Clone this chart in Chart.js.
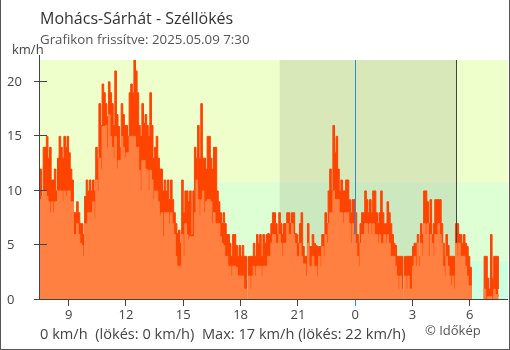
<!DOCTYPE html>
<html>
<head>
<meta charset="utf-8">
<script src="https://cdn.jsdelivr.net/npm/chart.js@4.4.1/dist/chart.umd.min.js"></script>
<style>
    body { margin: 0; background: #fff; }
    #wrap { position: relative; width: 510px; height: 350px; font-family: 'Open Sans', sans-serif; overflow: hidden; }
    #wrap canvas { position: absolute; left: 0; top: 0; }
    .txt { position: absolute; line-height: 1; white-space: pre; }
    #frame { position: absolute; left: 0; top: 0; width: 510px; height: 350px; box-sizing: border-box;
             border: 1px solid #555; border-top: none; pointer-events: none; }
</style>
</head>
<body>
<div id="wrap">
    <canvas id="gustChart" width="510" height="350"></canvas>
    <div class="txt" style="left:40px;top:10px;font-size:16px;color:#333;">Mohács-Sárhát - Széllökés</div>
    <div class="txt" style="left:40px;top:33px;font-size:13.3px;color:#555;">Grafikon frissítve: 2025.05.09 7:30</div>
    <div class="txt" style="left:12px;top:43px;font-size:13px;color:#444;">km/h</div>
    <div class="txt" style="left:40px;top:326px;font-size:14.6px;color:#444;">0 km/h  (lökés: 0 km/h)  Max: 17 km/h (lökés: 22 km/h)</div>
    <div class="txt" style="left:425px;top:324px;font-size:13px;color:#555;">© Időkép</div>
    <div id="frame"></div>
</div>
<script>
// 5-minute readings from 7:30 (hours, next day continues past 24)
const startHour = 7.5;
const stepMinutes = 5;

const gustKmh = [
    12, 9, 14, 14, 15, 13, 14, 11, 11, 12, 10, 13,
    15, 14, 13, 15, 14, 15, 13.5, 12, 11, 8, 8, 9,
    8, 7, 7, 6, 9.5, 11, 10, 11, 10, 11, 10, 14,
    13, 18, 16, 19.8, 19, 18, 16.8, 20, 19, 18, 16, 21,
    17, 15.9, 14, 18, 17, 16, 16, 15, 19, 19.8, 19, 22,
    21, 19, 16, 15, 18, 16.2, 17, 16, 15, 19, 16, 13,
    14, 15, 13, 12, 12, 10, 11, 10, 11, 9.2, 11, 9.2,
    8, 7, 6.1, 6.4, 5.2, 11, 8, 10, 10, 9, 10, 6,
    10, 14, 13, 16, 13, 18, 13, 13, 12, 15, 15, 13,
    12, 14, 14, 10, 9, 8, 7, 8, 7, 6, 6, 5.2,
    4, 6, 6, 5, 4, 5, 4, 5, 4, 4, 0, 4,
    4, 4, 5.2, 4, 6, 5.2, 6, 4, 6, 5.2, 6, 6.1,
    6, 7, 8, 8, 7, 6, 8, 7, 6, 7, 7, 8,
    8, 7, 8, 8, 6.1, 6, 5.2, 7, 8, 4.9, 4, 4,
    7, 4.9, 4.9, 6, 5.2, 5, 4.9, 4.9, 4.9, 6, 6, 8,
    7, 10, 12, 10, 16, 13.5, 15, 12, 10, 11, 10, 10,
    11, 11, 9.2, 8, 9.2, 9.2, 8, 6, 5.2, 7, 8, 8,
    10, 9.2, 8, 9.2, 8, 10, 10, 8, 7, 8, 10, 8,
    7, 7, 9, 8, 7, 6, 5.2, 5, 4, 4, 4, 4,
    0, 4, 4, 4, 4, 4, 4.9, 5.2, 5.2, 6, 4, 7,
    6, 10, 10, 9, 7, 9.2, 6, 7, 9.2, 9.2, 9.2, 9.2,
    7, 5.2, 4, 6, 5, 4, 4, 4, 4, 7, 7, 6,
    6, 5.2, 6, 5.2, 4.9, 4, 3, 0, 0, 0, 0, 0,
    0, 0, 0, 4, 4, 2, 1, 6, 2, 4, 4, 4,
    1
];

const windKmh = [
    9.2, 9.5, 10, 10, 9.5, 9, 8, 9, 8, 9, 9, 10,
    10, 10, 9, 10, 9.5, 10, 10, 9, 9, 6, 6, 7,
    6, 5.2, 5, 4, 7, 7, 8, 8, 8, 9, 7.5, 11,
    10, 13, 12, 15.9, 15.9, 16, 14, 17, 15, 14, 13, 15,
    12, 12.8, 12.8, 15, 14, 13, 13.5, 13.5, 15, 15, 15, 15,
    14, 14, 11.9, 10, 12.8, 12.8, 12, 11.9, 10, 11.9, 11, 9.2,
    10, 10, 9, 7.7, 8, 5.8, 8, 8, 8, 7, 8, 7,
    6, 4, 3.1, 3.1, 3.1, 6, 4, 7, 6, 5.5, 5.8, 5.8,
    5.8, 8, 11, 9.2, 7.7, 9.2, 10, 8, 9, 9.2, 9.2, 9,
    7, 8, 7, 7, 7, 5.8, 5.2, 5, 4, 4, 3.1, 3.1,
    2.2, 3.1, 3.1, 3, 2.2, 2.2, 2.2, 2.2, 1, 1, 0, 2.2,
    1, 2.2, 3.1, 2.2, 3.1, 3.1, 3.1, 2.2, 3.1, 3.1, 3.1, 4,
    4, 5.2, 6, 6, 5.2, 5.2, 6, 5.2, 4, 5.2, 5.2, 7,
    6, 6, 7, 6, 5.2, 4, 4, 5.2, 4, 3.3, 3.3, 2.2,
    5.2, 3.1, 3.1, 4, 3.1, 3.1, 2.2, 4, 3.1, 4.9, 4, 6,
    5.2, 7, 8, 8, 10, 9.2, 9.2, 9.2, 8, 8, 7, 8,
    8, 8, 7, 5.2, 7, 6, 5.2, 4, 3.1, 5.2, 6, 6,
    7, 7, 6, 7, 6, 7, 6, 6, 5.2, 6, 5.2, 5.2,
    6, 5.2, 6, 5.2, 4, 4, 4, 3.1, 2.2, 1, 2.2, 1,
    0, 2.2, 1, 2.2, 1, 1, 3.1, 4, 3.1, 5.2, 3.1, 5.2,
    4, 7, 6, 7, 4, 6, 5.2, 4, 6, 6, 7, 6,
    5.2, 3.1, 2.2, 4, 3.1, 2.2, 1.3, 2.2, 1, 5.2, 4, 5.2,
    4, 4, 4, 3.1, 2.2, 1.3, 1.3, 0, 0, 0, 0, 0,
    0, 0, 0, 1, 0, 0.3, 0.3, 0.3, 0, 1, 0.5, 0.5,
    0.3
];

const xTicks = [9, 12, 15, 18, 21, 24, 27, 30];
const xTickLabels = ['9', '12', '15', '18', '21', '0', '3', '6'];
const yTicks = [0, 5, 10, 15, 20];
const bandLimits = [3.6, 10.8];
const nightStart = 20.05;
const nightEnd = 29.3;
const midnightHour = 24;

const times = gustKmh.map((_, i) => startHour + i * stepMinutes / 60);

function toPoints(values) {
    return values.map((v, i) => ({ x: times[i], y: v }));
}

const crisp = v => Math.round(v) + 0.5;

const backdropPlugin = {
    id: 'backdrop',
    beforeDatasetsDraw(chart) {
        const { ctx, chartArea: a, scales: { x, y } } = chart;
        const yLow = y.getPixelForValue(bandLimits[0]);
        const yHigh = y.getPixelForValue(bandLimits[1]);
        ctx.save();
        ctx.fillStyle = '#EEFFCC';
        ctx.fillRect(a.left, a.top, a.width, yHigh - a.top);
        ctx.fillStyle = '#DDFFD3';
        ctx.fillRect(a.left, yHigh, a.width, yLow - yHigh);
        ctx.fillStyle = '#CCFFDD';
        ctx.fillRect(a.left, yLow, a.width, a.bottom - yLow);
        const xs = x.getPixelForValue(nightStart);
        const xe = x.getPixelForValue(nightEnd);
        ctx.fillStyle = 'rgba(110, 110, 80, 0.16)';
        ctx.fillRect(xs, a.top, xe - xs, a.height);
        ctx.restore();
    },
    afterDatasetDraw(chart, args) {
        // markers sit over the gusts but under the mean wind
        if (args.index !== 1) return;
        const { ctx, chartArea: a, scales: { x } } = chart;
        ctx.save();
        ctx.lineWidth = 1;
        ctx.strokeStyle = '#2A8FD8';
        const xm = crisp(x.getPixelForValue(midnightHour));
        ctx.beginPath();
        ctx.moveTo(xm, a.top);
        ctx.lineTo(xm, a.bottom + 6);
        ctx.stroke();
        ctx.strokeStyle = '#444';
        const xn = crisp(x.getPixelForValue(nightEnd));
        ctx.beginPath();
        ctx.moveTo(xn, a.top);
        ctx.lineTo(xn, a.bottom);
        ctx.stroke();
        ctx.restore();
    },
    afterDatasetsDraw(chart) {
        const { ctx, chartArea: a, scales: { y } } = chart;
        ctx.save();
        ctx.lineWidth = 1;
        ctx.strokeStyle = '#444';
        ctx.beginPath();
        const xl = crisp(a.left) - 1;
        ctx.moveTo(xl, a.top - 5);
        ctx.lineTo(xl, a.bottom);
        ctx.moveTo(a.left - 6, crisp(a.bottom) - 1);
        ctx.lineTo(a.right, crisp(a.bottom) - 1);
        y.ticks.forEach(t => {
            const py = crisp(y.getPixelForValue(t.value)) - 1;
            ctx.moveTo(a.left - 6, py);
            ctx.lineTo(a.left + 7, py);
        });
        ctx.stroke();
        ctx.restore();
    }
};

new Chart(document.getElementById('gustChart'), {
    type: 'line',
    data: {
        datasets: [{
            label: 'Szélsebesség',
            data: toPoints(windKmh),
            stepped: true,
            fill: 'origin',
            backgroundColor: '#FF8040',
            borderColor: '#FF8040',
            borderWidth: 1,
            pointRadius: 0
        }, {
            label: 'Széllökés',
            data: toPoints(gustKmh),
            stepped: true,
            fill: 'origin',
            backgroundColor: '#FF4400',
            borderColor: '#FF4400',
            borderWidth: 1,
            pointRadius: 0
        }]
    },
    options: {
        responsive: false,
        animation: false,
        devicePixelRatio: 1,
        layout: { padding: { left: 7, top: 60, right: 2, bottom: 0 } },
        plugins: {
            legend: { display: false },
            tooltip: { enabled: false }
        },
        scales: {
            x: {
                type: 'linear',
                min: 7.5,
                max: 32,
                afterBuildTicks: s => { s.ticks = xTicks.map(v => ({ value: v })); },
                afterFit: s => { s.height = 50; },
                ticks: {
                    autoSkip: false,
                    maxRotation: 0,
                    padding: 1,
                    color: '#444',
                    font: { family: "'Open Sans', sans-serif", size: 13 },
                    callback: (v, i) => xTickLabels[i]
                },
                grid: {
                    drawOnChartArea: false,
                    tickLength: 6,
                    tickColor: c => (c.tick && c.tick.value === midnightHour) ? '#2A8FD8' : '#444'
                },
                border: { display: false }
            },
            y: {
                min: 0,
                max: 22,
                afterBuildTicks: s => { s.ticks = yTicks.map(v => ({ value: v })); },
                afterFit: s => { s.width = 33; },
                ticks: {
                    crossAlign: 'far',
                    color: '#444',
                    font: { family: "'Open Sans', sans-serif", size: 13 }
                },
                grid: { display: false },
                border: { display: false }
            }
        }
    },
    plugins: [backdropPlugin]
});
</script>
</body>
</html>
